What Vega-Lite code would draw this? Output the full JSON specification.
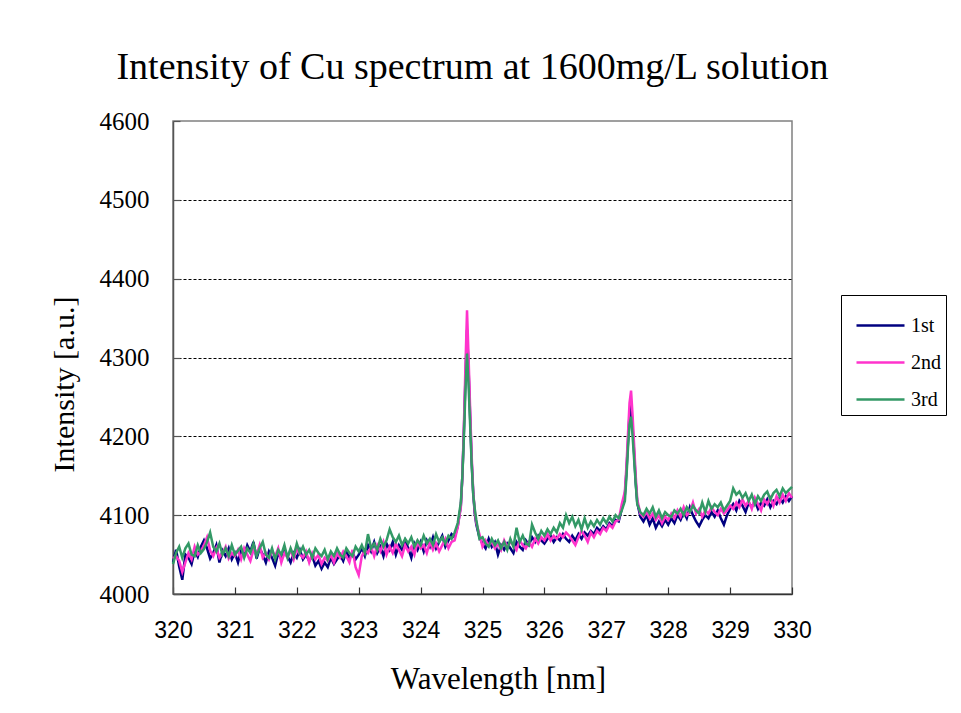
{
"$schema":"https://vega.github.io/schema/vega-lite/v6.json",
"width":619,"height":473,
"autosize":{"type":"none"},
"padding":{"left":173,"top":121,"right":169,"bottom":119},
"background":"#ffffff",
"config":{"view":{"stroke":"#808080","strokeWidth":1.5}},
"title":{"text":"Intensity of Cu spectrum at 1600mg/L solution","font":"Liberation Serif","fontSize":38,"fontWeight":"normal","color":"#000","anchor":"middle","frame":"group","dx":-10,"offset":-8,"baseline":"alphabetic"},
"data":{"values":[
{"w":320.00,"1st":4040,"2nd":4045,"3rd":4038},
{"w":320.05,"1st":4056,"2nd":4048,"3rd":4052},
{"w":320.10,"1st":4035,"2nd":4042,"3rd":4060},
{"w":320.15,"1st":4018,"2nd":4028,"3rd":4046},
{"w":320.20,"1st":4050,"2nd":4040,"3rd":4058},
{"w":320.25,"1st":4046,"2nd":4052,"3rd":4064},
{"w":320.30,"1st":4038,"2nd":4044,"3rd":4050},
{"w":320.35,"1st":4055,"2nd":4060,"3rd":4048},
{"w":320.40,"1st":4047,"2nd":4050,"3rd":4062},
{"w":320.45,"1st":4060,"2nd":4054,"3rd":4052},
{"w":320.50,"1st":4068,"2nd":4062,"3rd":4057},
{"w":320.55,"1st":4058,"2nd":4072,"3rd":4066},
{"w":320.60,"1st":4045,"2nd":4055,"3rd":4078},
{"w":320.65,"1st":4052,"2nd":4048,"3rd":4060},
{"w":320.70,"1st":4062,"2nd":4058,"3rd":4054},
{"w":320.75,"1st":4040,"2nd":4046,"3rd":4064},
{"w":320.80,"1st":4055,"2nd":4052,"3rd":4050},
{"w":320.85,"1st":4048,"2nd":4060,"3rd":4058},
{"w":320.90,"1st":4058,"2nd":4045,"3rd":4048},
{"w":320.95,"1st":4044,"2nd":4052,"3rd":4062},
{"w":321.00,"1st":4052,"2nd":4048,"3rd":4050},
{"w":321.05,"1st":4040,"2nd":4056,"3rd":4055},
{"w":321.10,"1st":4056,"2nd":4044,"3rd":4060},
{"w":321.15,"1st":4048,"2nd":4058,"3rd":4046},
{"w":321.20,"1st":4062,"2nd":4050,"3rd":4058},
{"w":321.25,"1st":4054,"2nd":4042,"3rd":4052},
{"w":321.30,"1st":4066,"2nd":4056,"3rd":4064},
{"w":321.35,"1st":4045,"2nd":4050,"3rd":4048},
{"w":321.40,"1st":4058,"2nd":4062,"3rd":4058},
{"w":321.45,"1st":4050,"2nd":4046,"3rd":4066},
{"w":321.50,"1st":4040,"2nd":4052,"3rd":4050},
{"w":321.55,"1st":4054,"2nd":4044,"3rd":4046},
{"w":321.60,"1st":4046,"2nd":4055,"3rd":4058},
{"w":321.65,"1st":4036,"2nd":4048,"3rd":4044},
{"w":321.70,"1st":4052,"2nd":4058,"3rd":4056},
{"w":321.75,"1st":4044,"2nd":4040,"3rd":4050},
{"w":321.80,"1st":4056,"2nd":4052,"3rd":4062},
{"w":321.85,"1st":4048,"2nd":4046,"3rd":4046},
{"w":321.90,"1st":4040,"2nd":4056,"3rd":4058},
{"w":321.95,"1st":4052,"2nd":4044,"3rd":4048},
{"w":322.00,"1st":4046,"2nd":4058,"3rd":4064},
{"w":322.05,"1st":4056,"2nd":4050,"3rd":4052},
{"w":322.10,"1st":4044,"2nd":4046,"3rd":4060},
{"w":322.15,"1st":4050,"2nd":4054,"3rd":4050},
{"w":322.20,"1st":4042,"2nd":4040,"3rd":4056},
{"w":322.25,"1st":4048,"2nd":4052,"3rd":4046},
{"w":322.30,"1st":4036,"2nd":4044,"3rd":4058},
{"w":322.35,"1st":4042,"2nd":4050,"3rd":4052},
{"w":322.40,"1st":4032,"2nd":4038,"3rd":4048},
{"w":322.45,"1st":4040,"2nd":4046,"3rd":4056},
{"w":322.50,"1st":4034,"2nd":4042,"3rd":4044},
{"w":322.55,"1st":4046,"2nd":4050,"3rd":4054},
{"w":322.60,"1st":4038,"2nd":4040,"3rd":4048},
{"w":322.65,"1st":4044,"2nd":4052,"3rd":4058},
{"w":322.70,"1st":4050,"2nd":4046,"3rd":4050},
{"w":322.75,"1st":4042,"2nd":4054,"3rd":4046},
{"w":322.80,"1st":4054,"2nd":4048,"3rd":4058},
{"w":322.85,"1st":4046,"2nd":4040,"3rd":4052},
{"w":322.90,"1st":4052,"2nd":4056,"3rd":4048},
{"w":322.95,"1st":4044,"2nd":4034,"3rd":4060},
{"w":323.00,"1st":4050,"2nd":4024,"3rd":4054},
{"w":323.05,"1st":4058,"2nd":4048,"3rd":4062},
{"w":323.10,"1st":4048,"2nd":4056,"3rd":4052},
{"w":323.15,"1st":4062,"2nd":4052,"3rd":4076},
{"w":323.20,"1st":4054,"2nd":4060,"3rd":4058},
{"w":323.25,"1st":4066,"2nd":4048,"3rd":4064},
{"w":323.30,"1st":4052,"2nd":4062,"3rd":4056},
{"w":323.35,"1st":4060,"2nd":4054,"3rd":4070},
{"w":323.40,"1st":4048,"2nd":4066,"3rd":4060},
{"w":323.45,"1st":4064,"2nd":4050,"3rd":4068},
{"w":323.50,"1st":4056,"2nd":4060,"3rd":4082},
{"w":323.55,"1st":4066,"2nd":4052,"3rd":4072},
{"w":323.60,"1st":4050,"2nd":4064,"3rd":4066},
{"w":323.65,"1st":4062,"2nd":4056,"3rd":4074},
{"w":323.70,"1st":4056,"2nd":4048,"3rd":4062},
{"w":323.75,"1st":4068,"2nd":4062,"3rd":4070},
{"w":323.80,"1st":4058,"2nd":4054,"3rd":4064},
{"w":323.85,"1st":4046,"2nd":4060,"3rd":4072},
{"w":323.90,"1st":4064,"2nd":4050,"3rd":4060},
{"w":323.95,"1st":4056,"2nd":4066,"3rd":4068},
{"w":324.00,"1st":4066,"2nd":4058,"3rd":4062},
{"w":324.05,"1st":4054,"2nd":4062,"3rd":4074},
{"w":324.10,"1st":4068,"2nd":4052,"3rd":4064},
{"w":324.15,"1st":4060,"2nd":4066,"3rd":4070},
{"w":324.20,"1st":4072,"2nd":4056,"3rd":4062},
{"w":324.25,"1st":4058,"2nd":4064,"3rd":4076},
{"w":324.30,"1st":4066,"2nd":4054,"3rd":4066},
{"w":324.35,"1st":4074,"2nd":4062,"3rd":4072},
{"w":324.40,"1st":4060,"2nd":4070,"3rd":4064},
{"w":324.45,"1st":4068,"2nd":4058,"3rd":4074},
{"w":324.50,"1st":4076,"2nd":4066,"3rd":4070},
{"w":324.55,"1st":4072,"2nd":4068,"3rd":4078},
{"w":324.60,"1st":4086,"2nd":4085,"3rd":4090},
{"w":324.65,"1st":4112,"2nd":4110,"3rd":4116},
{"w":324.675,"1st":4150,"2nd":4150,"3rd":4150},
{"w":324.70,"1st":4208,"2nd":4215,"3rd":4200},
{"w":324.725,"1st":4275,"2nd":4290,"3rd":4260},
{"w":324.75,"1st":4335,"2nd":4360,"3rd":4305},
{"w":324.775,"1st":4285,"2nd":4300,"3rd":4265},
{"w":324.80,"1st":4225,"2nd":4235,"3rd":4215},
{"w":324.825,"1st":4168,"2nd":4175,"3rd":4165},
{"w":324.85,"1st":4128,"2nd":4130,"3rd":4126},
{"w":324.875,"1st":4102,"2nd":4105,"3rd":4108},
{"w":324.90,"1st":4088,"2nd":4090,"3rd":4094},
{"w":324.95,"1st":4072,"2nd":4076,"3rd":4070},
{"w":325.00,"1st":4064,"2nd":4060,"3rd":4072},
{"w":325.05,"1st":4058,"2nd":4068,"3rd":4064},
{"w":325.10,"1st":4070,"2nd":4062,"3rd":4060},
{"w":325.15,"1st":4060,"2nd":4066,"3rd":4070},
{"w":325.20,"1st":4066,"2nd":4058,"3rd":4062},
{"w":325.25,"1st":4050,"2nd":4064,"3rd":4068},
{"w":325.30,"1st":4062,"2nd":4056,"3rd":4058},
{"w":325.35,"1st":4056,"2nd":4068,"3rd":4066},
{"w":325.40,"1st":4064,"2nd":4060,"3rd":4056},
{"w":325.45,"1st":4058,"2nd":4066,"3rd":4070},
{"w":325.50,"1st":4052,"2nd":4062,"3rd":4060},
{"w":325.55,"1st":4066,"2nd":4056,"3rd":4084},
{"w":325.60,"1st":4060,"2nd":4068,"3rd":4066},
{"w":325.65,"1st":4056,"2nd":4062,"3rd":4074},
{"w":325.70,"1st":4068,"2nd":4058,"3rd":4064},
{"w":325.75,"1st":4062,"2nd":4066,"3rd":4062},
{"w":325.80,"1st":4072,"2nd":4060,"3rd":4088},
{"w":325.85,"1st":4066,"2nd":4070,"3rd":4078},
{"w":325.90,"1st":4074,"2nd":4064,"3rd":4070},
{"w":325.95,"1st":4068,"2nd":4072,"3rd":4080},
{"w":326.00,"1st":4064,"2nd":4068,"3rd":4074},
{"w":326.05,"1st":4070,"2nd":4076,"3rd":4082},
{"w":326.10,"1st":4074,"2nd":4068,"3rd":4076},
{"w":326.15,"1st":4066,"2nd":4074,"3rd":4084},
{"w":326.20,"1st":4072,"2nd":4070,"3rd":4078},
{"w":326.25,"1st":4068,"2nd":4076,"3rd":4090},
{"w":326.30,"1st":4076,"2nd":4072,"3rd":4084},
{"w":326.35,"1st":4070,"2nd":4078,"3rd":4100},
{"w":326.40,"1st":4066,"2nd":4074,"3rd":4090},
{"w":326.45,"1st":4074,"2nd":4068,"3rd":4098},
{"w":326.50,"1st":4068,"2nd":4062,"3rd":4086},
{"w":326.55,"1st":4076,"2nd":4072,"3rd":4094},
{"w":326.60,"1st":4070,"2nd":4080,"3rd":4082},
{"w":326.65,"1st":4078,"2nd":4074,"3rd":4096},
{"w":326.70,"1st":4074,"2nd":4066,"3rd":4084},
{"w":326.75,"1st":4080,"2nd":4078,"3rd":4092},
{"w":326.80,"1st":4076,"2nd":4072,"3rd":4086},
{"w":326.85,"1st":4084,"2nd":4080,"3rd":4094},
{"w":326.90,"1st":4080,"2nd":4076,"3rd":4088},
{"w":326.95,"1st":4086,"2nd":4084,"3rd":4096},
{"w":327.00,"1st":4082,"2nd":4080,"3rd":4090},
{"w":327.05,"1st":4090,"2nd":4088,"3rd":4098},
{"w":327.10,"1st":4086,"2nd":4084,"3rd":4092},
{"w":327.15,"1st":4094,"2nd":4092,"3rd":4100},
{"w":327.20,"1st":4092,"2nd":4094,"3rd":4096},
{"w":327.25,"1st":4108,"2nd":4114,"3rd":4106},
{"w":327.30,"1st":4126,"2nd":4130,"3rd":4118},
{"w":327.325,"1st":4155,"2nd":4162,"3rd":4148},
{"w":327.35,"1st":4192,"2nd":4202,"3rd":4185},
{"w":327.375,"1st":4228,"2nd":4242,"3rd":4215},
{"w":327.40,"1st":4240,"2nd":4258,"3rd":4225},
{"w":327.425,"1st":4212,"2nd":4226,"3rd":4200},
{"w":327.45,"1st":4178,"2nd":4188,"3rd":4170},
{"w":327.475,"1st":4142,"2nd":4150,"3rd":4140},
{"w":327.50,"1st":4116,"2nd":4120,"3rd":4114},
{"w":327.55,"1st":4098,"2nd":4102,"3rd":4104},
{"w":327.60,"1st":4092,"2nd":4098,"3rd":4100},
{"w":327.65,"1st":4100,"2nd":4104,"3rd":4108},
{"w":327.70,"1st":4088,"2nd":4096,"3rd":4102},
{"w":327.75,"1st":4096,"2nd":4102,"3rd":4110},
{"w":327.80,"1st":4084,"2nd":4094,"3rd":4098},
{"w":327.85,"1st":4092,"2nd":4100,"3rd":4106},
{"w":327.90,"1st":4086,"2nd":4090,"3rd":4096},
{"w":327.95,"1st":4094,"2nd":4098,"3rd":4104},
{"w":328.00,"1st":4088,"2nd":4094,"3rd":4100},
{"w":328.05,"1st":4096,"2nd":4102,"3rd":4098},
{"w":328.10,"1st":4090,"2nd":4096,"3rd":4106},
{"w":328.15,"1st":4100,"2nd":4106,"3rd":4102},
{"w":328.20,"1st":4094,"2nd":4098,"3rd":4108},
{"w":328.25,"1st":4104,"2nd":4110,"3rd":4100},
{"w":328.30,"1st":4096,"2nd":4100,"3rd":4110},
{"w":328.35,"1st":4110,"2nd":4104,"3rd":4104},
{"w":328.40,"1st":4100,"2nd":4116,"3rd":4112},
{"w":328.45,"1st":4092,"2nd":4102,"3rd":4106},
{"w":328.50,"1st":4086,"2nd":4108,"3rd":4102},
{"w":328.55,"1st":4094,"2nd":4098,"3rd":4116},
{"w":328.60,"1st":4100,"2nd":4106,"3rd":4104},
{"w":328.65,"1st":4096,"2nd":4102,"3rd":4118},
{"w":328.70,"1st":4104,"2nd":4110,"3rd":4108},
{"w":328.75,"1st":4098,"2nd":4104,"3rd":4114},
{"w":328.80,"1st":4106,"2nd":4100,"3rd":4110},
{"w":328.85,"1st":4096,"2nd":4108,"3rd":4116},
{"w":328.90,"1st":4088,"2nd":4102,"3rd":4106},
{"w":328.95,"1st":4100,"2nd":4106,"3rd":4112},
{"w":329.00,"1st":4108,"2nd":4112,"3rd":4118},
{"w":329.05,"1st":4114,"2nd":4108,"3rd":4134},
{"w":329.10,"1st":4106,"2nd":4116,"3rd":4126},
{"w":329.15,"1st":4118,"2nd":4110,"3rd":4130},
{"w":329.20,"1st":4112,"2nd":4120,"3rd":4122},
{"w":329.25,"1st":4104,"2nd":4112,"3rd":4128},
{"w":329.30,"1st":4116,"2nd":4118,"3rd":4118},
{"w":329.35,"1st":4110,"2nd":4108,"3rd":4126},
{"w":329.40,"1st":4118,"2nd":4122,"3rd":4114},
{"w":329.45,"1st":4108,"2nd":4114,"3rd":4124},
{"w":329.50,"1st":4116,"2nd":4106,"3rd":4118},
{"w":329.55,"1st":4112,"2nd":4120,"3rd":4126},
{"w":329.60,"1st":4120,"2nd":4114,"3rd":4130},
{"w":329.65,"1st":4110,"2nd":4122,"3rd":4120},
{"w":329.70,"1st":4118,"2nd":4112,"3rd":4128},
{"w":329.75,"1st":4114,"2nd":4124,"3rd":4132},
{"w":329.80,"1st":4122,"2nd":4116,"3rd":4124},
{"w":329.85,"1st":4116,"2nd":4126,"3rd":4134},
{"w":329.90,"1st":4124,"2nd":4118,"3rd":4128},
{"w":329.95,"1st":4118,"2nd":4128,"3rd":4132},
{"w":330.00,"1st":4124,"2nd":4122,"3rd":4136}
]},
"transform":[{"fold":["1st","2nd","3rd"],"as":["series","intensity"]}],
"mark":{"type":"line","strokeWidth":2.5,"interpolate":"linear"},
"encoding":{
"x":{"field":"w","type":"quantitative","scale":{"domain":[320,330],"nice":false,"zero":false},
"axis":{"values":[320,321,322,323,324,325,326,327,328,329,330],"format":"d","grid":false,"domainColor":"#333","domainWidth":1.5,"tickColor":"#333","tickSize":-7,"tickWidth":1.2,"labelFont":"Liberation Sans","labelFontSize":23,"labelColor":"#000","labelPadding":32,"labelFlush":false,"labelBaseline":"top","title":"Wavelength [nm]","titleFont":"Liberation Serif","titleFontSize":31,"titleFontWeight":"normal","titleColor":"#000","titleX":325,"titleY":94,"titleBaseline":"alphabetic","titleAlign":"center"}},
"y":{"field":"intensity","type":"quantitative","scale":{"domain":[4000,4600],"nice":false,"zero":false},
"axis":{"values":[4000,4100,4200,4300,4400,4500,4600],"format":"d","grid":true,"gridColor":"#000","gridDash":[3,2],"gridWidth":1,"gridOpacity":{"condition":{"test":"datum.value == 4000 || datum.value == 4600","value":0},"value":1},"domainColor":"#555","domainWidth":1.5,"tickColor":"#555","tickSize":-7,"tickWidth":1.2,"labelFont":"Liberation Serif","labelFontSize":25,"labelColor":"#000","labelPadding":31,"labelFlush":false,"title":"Intensity [a.u.]","titleFont":"Liberation Serif","titleFontSize":30,"titleFontWeight":"normal","titleColor":"#000","titleX":-100,"titleY":263,"titleBaseline":"alphabetic","titleAlign":"center","titleAngle":-90}},
"color":{"field":"series","type":"nominal","scale":{"domain":["1st","2nd","3rd"],"range":["#000080","#FF33CC","#339966"]},
"legend":{"title":null,"orient":"none","legendX":668,"legendY":174,"direction":"vertical","strokeColor":"#000","fillColor":"#fff","padding":5,"labelFont":"Liberation Serif","labelFontSize":20,"labelColor":"#000","labelOffset":5,"labelExpr":"datum.label + '\u00a0\u00a0\u00a0\u00a0\u00a0'","symbolType":"stroke","symbolSize":2304,"symbolOffset":9,"symbolStrokeWidth":2.5,"rowPadding":1}}
}
}
